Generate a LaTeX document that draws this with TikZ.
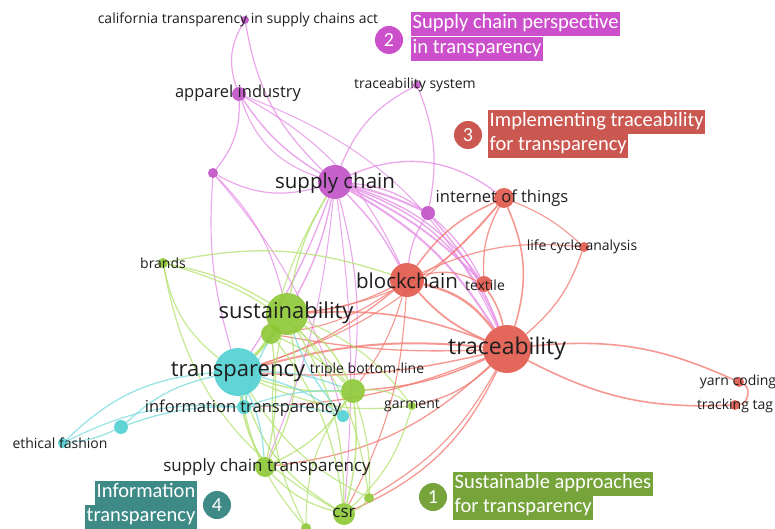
\documentclass[tikz,border=0pt]{standalone}
\usepackage{fontspec}
\setmainfont{Open Sans}
\newfontfamily\boxfont{Carlito}
\pgfdeclarelayer{bg}
\pgfsetlayers{bg,main}

% cluster colours: nodes, edges, legend boxes
\definecolor{magN}{RGB}{192,80,198}
\definecolor{redN}{RGB}{225,86,74}
\definecolor{grnN}{RGB}{140,200,52}
\definecolor{cyaN}{RGB}{80,208,210}
\definecolor{magE}{RGB}{228,135,228}
\definecolor{redE}{RGB}{242,118,108}
\definecolor{grnE}{RGB}{178,225,110}
\definecolor{cyaE}{RGB}{120,218,220}
\definecolor{magB}{RGB}{204,80,204}
\definecolor{redB}{RGB}{202,88,80}
\definecolor{grnB}{RGB}{118,163,58}
\definecolor{cyaB}{RGB}{62,138,134}
\definecolor{ink}{RGB}{30,30,30}

\tikzset{
  dot/.style={circle, inner sep=0pt, draw=none, minimum size=2*#1},
  mag/.style={dot=#1, fill=magN, fill opacity=.9},
  red/.style={dot=#1, fill=redN, fill opacity=.9},
  grn/.style={dot=#1, fill=grnN, fill opacity=.9},
  cya/.style={dot=#1, fill=cyaN, fill opacity=.9},
  lbl/.style={font=\fontsize{#1}{#1}\selectfont, text=ink, inner sep=0pt},
  lblS/.style={lbl=14},
  lblM/.style={lbl=16.5},
  edge/.style={line width=#1, opacity=.75},
  numc/.style={circle, inner sep=0pt, minimum size=28pt, text=white,
    font=\boxfont\fontsize{20}{20}\selectfont},
  cbox/.style={inner xsep=1.5pt, inner ysep=0pt, minimum height=24pt,
    text height=13.5pt, text depth=4.5pt, text=white,
    font=\boxfont\fontsize{20.5}{20.5}\selectfont},
}

\begin{document}
\begin{tikzpicture}[x=1pt, y=-1pt]
\useasboundingbox (0,0) rectangle (775,529);

% ---------- keyword nodes ----------
\node[mag=4]  (cal)  at (245,20)  {};
\node[mag=7]  (app)  at (239,94)  {};
\node[mag=5]  (m1)   at (213,173) {};
\node[mag=17] (sc)   at (335,182) {};
\node[mag=4]  (tsys) at (417,85)  {};
\node[mag=7]  (m2)   at (428,213) {};
\node[red=10] (iot)  at (504,198) {};
\node[red=5]  (lca)  at (584,247) {};
\node[red=17] (bc)   at (407,280) {};
\node[red=8]  (tex)  at (484,284) {};
\node[red=24] (tr)   at (507,349) {};
\node[red=5]  (yarn) at (739,382) {};
\node[red=5]  (tag)  at (735,405) {};
\node[grn=21] (sus)  at (287,314) {};
\node[grn=10] (g1)   at (271,334) {};
\node[cya=24] (tp)   at (238,372) {};
\node[grn=12] (tbl)  at (353,391) {};
\node[cya=7]  (it)   at (244,407) {};
\node[cya=6]  (c2)   at (343,416) {};
\node[grn=4]  (gar)  at (412,406) {};
\node[cya=7]  (c1)   at (121,427) {};
\node[cya=5]  (ef)   at (63,443)  {};
\node[grn=5]  (br)   at (163,263) {};
\node[grn=10] (sct)  at (265,467) {};
\node[grn=5]  (g2)   at (369,498) {};
\node[grn=11] (csr)  at (344,514) {};
\node[grn=5]  (g3)   at (306,528) {};

% ---------- keyword labels ----------
\node[lblS]    (cal-l)  at (238,20)  {california transparency in supply chains act};
\node[lblM]    (app-l)  at (238,93)  {apparel industry};
\node[lbl=20.5](sc-l)   at (335,183) {supply chain};
\node[lblS]    (tsys-l) at (415,85)  {traceability system};
\node[lblM]    (iot-l)  at (502,198) {internet of things};
\node[lblS]    (lca-l)  at (582,247) {life cycle analysis};
\node[lbl=20.5](bc-l)   at (407,281) {blockchain};
\node[lblS]    (tex-l)  at (485,285) {textile};
\node[lbl=23]  (tr-l)   at (507,349) {traceability};
\node[lblS]    (yarn-l) at (738,382) {yarn coding};
\node[lblS]    (tag-l)  at (735,406) {tracking tag};
\node[lbl=22]  (sus-l)  at (286,313) {sustainability};
\node[lbl=22]  (tp-l)   at (238,372) {transparency};
\node[lblS]    (tbl-l)  at (367,370) {triple bottom-line};
\node[lblM]    (it-l)   at (243,408) {information transparency};
\node[lblS]    (gar-l)  at (412,406) {garment};
\node[lblS]    (ef-l)   at (60,443)  {ethical fashion};
\node[lblS]    (br-l)   at (163,263) {brands};
\node[lbl=17]  (sct-l)  at (267,467) {supply chain transparency};
\node[lbl=17]  (csr-l)  at (344,513) {csr};

% ---------- cluster legend ----------
\node[numc, fill=magB] (n2) at (389,40) {2};
\node[cbox, fill=magB, anchor=west] (b2a) at (411,24.5) {Supply chain perspective};
\node[cbox, fill=magB, anchor=north west] (b2b) at (b2a.south west) {in transparency};

\node[numc, fill=redB] (n3) at (468,135) {3};
\node[cbox, fill=redB, anchor=west] (b3a) at (488,122) {Implementing traceability};
\node[cbox, fill=redB, anchor=north west] (b3b) at (b3a.south west) {for transparency};

\node[numc, fill=grnB] (n1) at (433,497) {1};
\node[cbox, fill=grnB, anchor=west] (b1a) at (453,484) {Sustainable approaches};
\node[cbox, fill=grnB, anchor=north west] (b1b) at (b1a.south west) {for transparency};

\node[numc, fill=cyaB] (n4) at (217,505) {4};
\node[cbox, fill=cyaB, anchor=east] (b4a) at (197,493) {Information};
\node[cbox, fill=cyaB, anchor=north east] (b4b) at (b4a.south east) {transparency};

% ---------- co-occurrence links ----------
\begin{pgfonlayer}{bg}
\foreach \a/\b/\bd/\w in {
  app/cal/25/1.2, sc/cal/18/1.2, sc/app/12/1.4, sc/app/26/1.1,
  app/m1/20/1.2, sc/m1/22/1.2, sc/tsys/20/1.2, tsys/m2/16/1.2,
  sc/m2/6/2.0, sc/m2/14/1.3, sc/tex/10/1.8, sc/tex/18/1.3,
  sc/tr/14/2.0, sc/tr/24/1.4, sc/bc/8/1.4, sc/iot/30/1.3,
  sc/sus/8/1.4, sc/tp/6/1.3, tp/m1/10/1.1, m1/sus/15/1.1,
  m2/tr/10/1.4, m2/tex/10/1.2, bc/m2/12/1.2, app/bc/18/1.1,
  sc/tbl/10/1.1, m1/c2/12/1.0, app/tr/22/1.0, sc/sct/8/1.0, sc/csr/6/1.0}
  \draw[edge=\w, magE] (\a) to[bend left=\bd] (\b);

\foreach \a/\b/\bd/\w in {
  bc/iot/15/1.5, iot/tr/20/1.6, tex/iot/15/1.3, lca/tr/15/1.3,
  bc/lca/15/1.2, iot/lca/10/1.1, bc/tr/20/2.4, tr/bc/12/1.8, bc/tex/20/1.3,
  tex/tr/10/1.6, tr/yarn/15/1.6, tag/tr/15/1.6, yarn/tag/75/1.6,
  tp/tr/10/2.0, tr/tp/8/1.4, sus/tr/12/1.6, tr/tbl/10/1.5,
  tr/gar/15/1.3, tr/csr/20/1.3, tr/sct/18/1.3, tr/g2/15/1.2,
  tr/it/10/1.3, tr/g1/6/1.3, bc/tp/10/1.3, bc/sus/10/1.3,
  bc/g1/14/1.1, bc/csr/12/1.1, bc/tbl/10/1.1, iot/tp/15/1.1, iot/sus/22/1.0}
  \draw[edge=\w, redE] (\a) to[bend left=\bd] (\b);

\foreach \a/\b/\bd/\w in {
  br/bc/15/1.3, br/sus/10/1.3, br/tbl/18/1.2, tp/br/20/1.2, csr/br/25/1.2,
  sus/tp/5/3.0, g1/tp/5/2.4, sus/g1/0/1.8, sus/tbl/15/1.5,
  sus/csr/15/1.3, sus/sct/20/1.3, sus/gar/15/1.1, sus/g2/15/1.2,
  tbl/csr/10/1.5, tbl/sct/15/1.3, tbl/tp/10/1.5, tbl/g2/10/1.2,
  g1/csr/15/1.3, g1/sct/10/1.3, g1/tbl/10/1.3, csr/tp/20/1.3,
  sct/tp/10/1.8, csr/sct/15/1.3, g2/tp/15/1.2, g3/tp/15/1.2,
  g3/sus/20/1.2, gar/csr/15/1.2, gar/tp/15/1.2, g2/csr/15/1.2,
  sus/sc/10/1.3, g1/sc/8/1.1, tbl/gar/20/1.1, g3/tbl/18/1.1}
  \draw[edge=\w, grnE] (\a) to[bend left=\bd] (\b);

\foreach \a/\b/\bd/\w in {
  ef/tp/20/1.3, c1/ef/10/1.3, c1/tp/15/1.3, c1/it/10/1.3, ef/it/15/1.2,
  it/tp/0/1.8, tp/c2/10/1.3, c2/sus/10/1.3, it/sus/10/1.3,
  tp/tbl/10/1.3, it/tbl/10/1.2, tp/sct/10/1.3, it/c2/10/1.2}
  \draw[edge=\w, cyaE] (\a) to[bend left=\bd] (\b);
\end{pgfonlayer}
\end{tikzpicture}
\end{document}
